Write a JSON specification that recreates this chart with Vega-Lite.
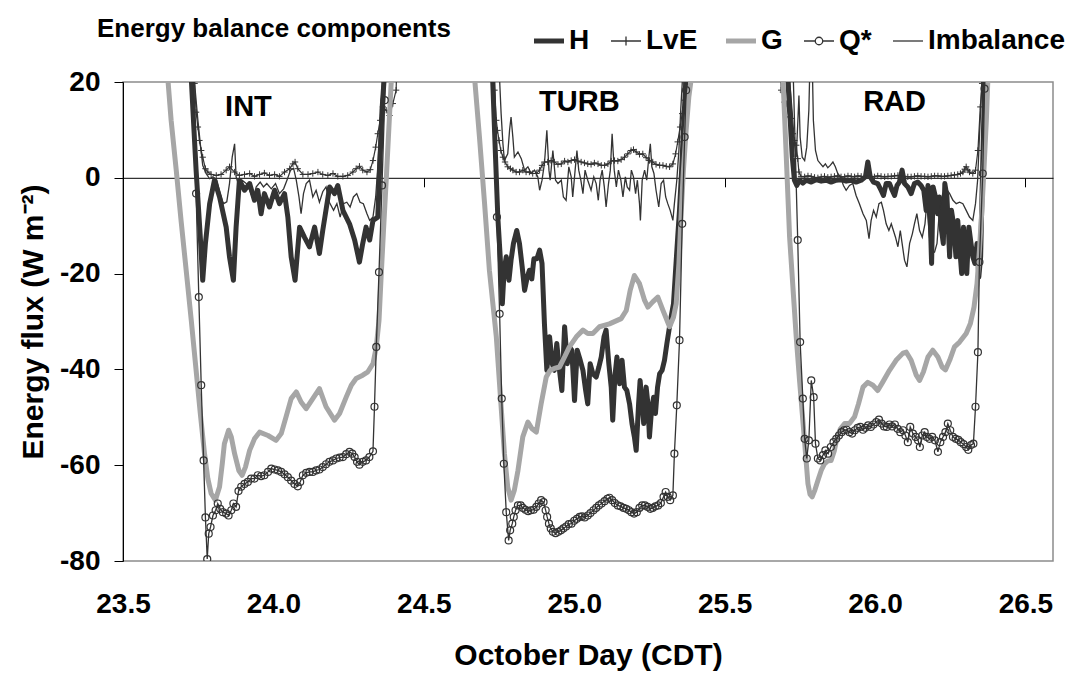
{
"$schema": "https://vega.github.io/schema/vega-lite/v6.json",
"width": 930, "height": 479,
"autosize": {"type": "none"},
"padding": {"left": 123, "top": 82, "right": 21, "bottom": 112},
"background": "white",
"config": {"view": {"stroke": "#8c8c8c", "strokeWidth": 1.5}, "font": "Liberation Sans"},
"title": {"text": "Energy balance components", "anchor": "start", "frame": "group", "dx": -26, "offset": -15, "fontSize": 26, "font": "Liberation Sans", "fontWeight": "bold", "color": "black"},
"datasets": {
"lab": [{"t": "INT", "x": 23.917, "y": 14.7}, {"t": "TURB", "x": 25.017, "y": 15.8}, {"t": "RAD", "x": 26.065, "y": 15.8}],
"d": [
{"s":"H","x":23.5,"y":200},{"s":"H","x":23.715,"y":60},{"s":"H","x":23.727,"y":20.7},{"s":"H","x":23.743,"y":1.6},{"s":"H","x":23.757,"y":-12.4},{"s":"H","x":23.765,"y":-21.4},{"s":"H","x":23.774,"y":-13.7},{"s":"H","x":23.788,"y":-5.4},{"s":"H","x":23.804,"y":-0.5},{"s":"H","x":23.821,"y":-4.0},{"s":"H","x":23.843,"y":-10.3},{"s":"H","x":23.854,"y":-16.5},{"s":"H","x":23.867,"y":-21.4},{"s":"H","x":23.876,"y":-10.3},{"s":"H","x":23.887,"y":-0.5},{"s":"H","x":23.904,"y":-2.6},{"s":"H","x":23.921,"y":-1.2},{"s":"H","x":23.937,"y":-4.7},{"s":"H","x":23.948,"y":-2.6},{"s":"H","x":23.959,"y":-7.5},{"s":"H","x":23.97,"y":-3.3},{"s":"H","x":23.987,"y":-6.1},{"s":"H","x":24.004,"y":-2.6},{"s":"H","x":24.02,"y":-5.4},{"s":"H","x":24.037,"y":-3.3},{"s":"H","x":24.048,"y":-8.2},{"s":"H","x":24.059,"y":-16.5},{"s":"H","x":24.072,"y":-21.4},{"s":"H","x":24.087,"y":-10.3},{"s":"H","x":24.103,"y":-12.4},{"s":"H","x":24.12,"y":-14.4},{"s":"H","x":24.137,"y":-10.3},{"s":"H","x":24.153,"y":-15.8},{"s":"H","x":24.164,"y":-11.0},{"s":"H","x":24.187,"y":-1.9},{"s":"H","x":24.203,"y":-3.3},{"s":"H","x":24.214,"y":-1.6},{"s":"H","x":24.231,"y":-6.8},{"s":"H","x":24.253,"y":-9.6},{"s":"H","x":24.27,"y":-13.0},{"s":"H","x":24.286,"y":-17.6},{"s":"H","x":24.297,"y":-13.7},{"s":"H","x":24.308,"y":-10.3},{"s":"H","x":24.32,"y":-13.0},{"s":"H","x":24.331,"y":-8.9},{"s":"H","x":24.347,"y":-8.2},{"s":"H","x":24.353,"y":1.6},{"s":"H","x":24.361,"y":14.1},{"s":"H","x":24.37,"y":22.4},{"s":"H","x":24.38,"y":60},{"s":"H","x":24.55,"y":250},{"s":"H","x":24.72,"y":60},
{"s":"H","x":24.729,"y":20.4},{"s":"H","x":24.738,"y":5.0},{"s":"H","x":24.746,"y":-8.2},{"s":"H","x":24.754,"y":-16.5},{"s":"H","x":24.761,"y":-26.3},{"s":"H","x":24.767,"y":-19.3},{"s":"H","x":24.774,"y":-16.5},{"s":"H","x":24.783,"y":-21.4},{"s":"H","x":24.79,"y":-17.2},{"s":"H","x":24.798,"y":-13.7},{"s":"H","x":24.809,"y":-11.0},{"s":"H","x":24.818,"y":-13.7},{"s":"H","x":24.827,"y":-18.6},{"s":"H","x":24.835,"y":-23.5},{"s":"H","x":24.844,"y":-20.7},{"s":"H","x":24.851,"y":-19.3},{"s":"H","x":24.859,"y":-21.1},{"s":"H","x":24.866,"y":-16.9},{"s":"H","x":24.876,"y":-16.9},{"s":"H","x":24.885,"y":-15.1},{"s":"H","x":24.893,"y":-17.9},{"s":"H","x":24.901,"y":-30.5},{"s":"H","x":24.909,"y":-40.2},{"s":"H","x":24.918,"y":-33.2},{"s":"H","x":24.927,"y":-38.8},{"s":"H","x":24.934,"y":-40.2},{"s":"H","x":24.942,"y":-34.6},{"s":"H","x":24.951,"y":-40.2},{"s":"H","x":24.959,"y":-44.4},{"s":"H","x":24.968,"y":-31.1},{"s":"H","x":24.977,"y":-38.8},{"s":"H","x":24.984,"y":-35.3},{"s":"H","x":24.992,"y":-36.0},{"s":"H","x":25.001,"y":-46.5},{"s":"H","x":25.01,"y":-36.0},{"s":"H","x":25.02,"y":-38.1},{"s":"H","x":25.029,"y":-40.2},{"s":"H","x":25.038,"y":-44.4},{"s":"H","x":25.045,"y":-47.2},{"s":"H","x":25.053,"y":-38.8},{"s":"H","x":25.062,"y":-40.9},{"s":"H","x":25.073,"y":-41.6},{"s":"H","x":25.082,"y":-39.5},{"s":"H","x":25.09,"y":-37.4},{"s":"H","x":25.099,"y":-33.2},{"s":"H","x":25.106,"y":-31.8},{"s":"H","x":25.115,"y":-38.8},{"s":"H","x":25.123,"y":-43.7},{"s":"H","x":25.128,"y":-50.6},{"s":"H","x":25.135,"y":-41.6},{"s":"H","x":25.142,"y":-37.4},{"s":"H","x":25.151,"y":-43.0},{"s":"H","x":25.159,"y":-38.1},{"s":"H","x":25.167,"y":-43.7},{"s":"H","x":25.175,"y":-44.4},{"s":"H","x":25.184,"y":-47.2},{"s":"H","x":25.192,"y":-51.3},{"s":"H","x":25.2,"y":-54.1},{"s":"H","x":25.206,"y":-56.9},{"s":"H","x":25.214,"y":-47.2},{"s":"H","x":25.219,"y":-42.3},{"s":"H","x":25.226,"y":-47.2},{"s":"H","x":25.231,"y":-51.3},{"s":"H","x":25.239,"y":-43.7},{"s":"H","x":25.245,"y":-47.2},{"s":"H","x":25.25,"y":-54.1},{"s":"H","x":25.257,"y":-48.5},{"s":"H","x":25.264,"y":-45.8},{"s":"H","x":25.27,"y":-49.2},{"s":"H","x":25.277,"y":-43.7},{"s":"H","x":25.284,"y":-40.9},{"s":"H","x":25.292,"y":-40.2},{"s":"H","x":25.3,"y":-38.1},{"s":"H","x":25.308,"y":-34.6},{"s":"H","x":25.315,"y":-31.8},{"s":"H","x":25.322,"y":-29.1},{"s":"H","x":25.33,"y":-26.3},{"s":"H","x":25.337,"y":-19.3},{"s":"H","x":25.344,"y":-12.4},{"s":"H","x":25.35,"y":-6.8},{"s":"H","x":25.357,"y":1.6},{"s":"H","x":25.363,"y":9.9},{"s":"H","x":25.37,"y":19.0},{"s":"H","x":25.38,"y":60},{"s":"H","x":25.55,"y":250},{"s":"H","x":25.7,"y":60},
{"s":"H","x":25.71,"y":20.7},{"s":"H","x":25.718,"y":12.0},{"s":"H","x":25.725,"y":4.3},{"s":"H","x":25.732,"y":-0.5},{"s":"H","x":25.74,"y":-1.6},{"s":"H","x":25.749,"y":-0.5},{"s":"H","x":25.76,"y":-1.1},{"s":"H","x":25.771,"y":-0.5},{"s":"H","x":25.788,"y":-0.9},{"s":"H","x":25.804,"y":-0.4},{"s":"H","x":25.821,"y":-0.7},{"s":"H","x":25.838,"y":-0.5},{"s":"H","x":25.854,"y":-0.9},{"s":"H","x":25.871,"y":-0.5},{"s":"H","x":25.887,"y":-0.4},{"s":"H","x":25.904,"y":-0.7},{"s":"H","x":25.921,"y":-0.5},{"s":"H","x":25.937,"y":-0.9},{"s":"H","x":25.954,"y":-0.5},{"s":"H","x":25.968,"y":0.2},{"s":"H","x":25.976,"y":3.3},{"s":"H","x":25.984,"y":0.2},{"s":"H","x":25.995,"y":-0.9},{"s":"H","x":26.009,"y":-1.2},{"s":"H","x":26.02,"y":-2.6},{"s":"H","x":26.028,"y":-3.7},{"s":"H","x":26.037,"y":-1.2},{"s":"H","x":26.048,"y":-1.2},{"s":"H","x":26.057,"y":-2.6},{"s":"H","x":26.065,"y":-3.7},{"s":"H","x":26.073,"y":-1.6},{"s":"H","x":26.081,"y":-0.9},{"s":"H","x":26.09,"y":1.6},{"s":"H","x":26.098,"y":-1.2},{"s":"H","x":26.109,"y":-1.9},{"s":"H","x":26.12,"y":-3.3},{"s":"H","x":26.131,"y":-1.2},{"s":"H","x":26.142,"y":-0.9},{"s":"H","x":26.153,"y":-1.6},{"s":"H","x":26.162,"y":-2.6},{"s":"H","x":26.17,"y":-6.8},{"s":"H","x":26.176,"y":-1.6},{"s":"H","x":26.181,"y":-2.6},{"s":"H","x":26.188,"y":-17.9},{"s":"H","x":26.193,"y":-1.9},{"s":"H","x":26.201,"y":-4.0},{"s":"H","x":26.208,"y":-7.5},{"s":"H","x":26.214,"y":-4.0},{"s":"H","x":26.221,"y":-11.0},{"s":"H","x":26.227,"y":-13.7},{"s":"H","x":26.232,"y":-1.2},{"s":"H","x":26.239,"y":-4.0},{"s":"H","x":26.248,"y":-16.5},{"s":"H","x":26.254,"y":-6.8},{"s":"H","x":26.261,"y":-9.6},{"s":"H","x":26.269,"y":-16.5},{"s":"H","x":26.275,"y":-8.9},{"s":"H","x":26.282,"y":-15.1},{"s":"H","x":26.288,"y":-20.0},{"s":"H","x":26.294,"y":-10.3},{"s":"H","x":26.3,"y":-15.1},{"s":"H","x":26.305,"y":-20.0},{"s":"H","x":26.312,"y":-10.3},{"s":"H","x":26.319,"y":-13.7},{"s":"H","x":26.325,"y":-16.5},{"s":"H","x":26.332,"y":-17.9},{"s":"H","x":26.339,"y":-13.7},{"s":"H","x":26.345,"y":-20.7},{"s":"H","x":26.351,"y":-16.5},{"s":"H","x":26.355,"y":-5.4},{"s":"H","x":26.36,"y":8.5},{"s":"H","x":26.364,"y":18.3},{"s":"H","x":26.375,"y":60},{"s":"H","x":26.45,"y":200},

{"s":"LvE","x":23.5,"y":100},{"s":"LvE","x":23.72,"y":40},{"s":"LvE","x":23.738,"y":19.7},{"s":"LvE","x":23.743,"y":13.7},{"s":"LvE","x":23.749,"y":10.6},{"s":"LvE","x":23.754,"y":7.8},{"s":"LvE","x":23.76,"y":5.7},{"s":"LvE","x":23.765,"y":4.3},{"s":"LvE","x":23.774,"y":1.9},{"s":"LvE","x":23.782,"y":1.2},{"s":"LvE","x":23.793,"y":0.7},{"s":"LvE","x":23.81,"y":0.5},{"s":"LvE","x":23.826,"y":0.7},{"s":"LvE","x":23.843,"y":1.6},{"s":"LvE","x":23.854,"y":2.3},{"s":"LvE","x":23.871,"y":1.2},{"s":"LvE","x":23.887,"y":0.5},{"s":"LvE","x":23.904,"y":0.7},{"s":"LvE","x":23.921,"y":0.9},{"s":"LvE","x":23.937,"y":0.3},{"s":"LvE","x":23.954,"y":0.7},{"s":"LvE","x":23.97,"y":1.0},{"s":"LvE","x":23.987,"y":0.5},{"s":"LvE","x":24.004,"y":0.7},{"s":"LvE","x":24.02,"y":0.3},{"s":"LvE","x":24.037,"y":1.2},{"s":"LvE","x":24.054,"y":1.9},{"s":"LvE","x":24.065,"y":2.9},{"s":"LvE","x":24.072,"y":3.3},{"s":"LvE","x":24.081,"y":1.9},{"s":"LvE","x":24.098,"y":0.7},{"s":"LvE","x":24.115,"y":0.7},{"s":"LvE","x":24.131,"y":0.9},{"s":"LvE","x":24.148,"y":1.2},{"s":"LvE","x":24.164,"y":0.7},{"s":"LvE","x":24.181,"y":0.5},{"s":"LvE","x":24.198,"y":0.9},{"s":"LvE","x":24.214,"y":0.3},{"s":"LvE","x":24.231,"y":0.3},{"s":"LvE","x":24.247,"y":0.5},{"s":"LvE","x":24.264,"y":1.2},{"s":"LvE","x":24.275,"y":1.9},{"s":"LvE","x":24.286,"y":2.4},{"s":"LvE","x":24.297,"y":1.6},{"s":"LvE","x":24.311,"y":1.2},{"s":"LvE","x":24.322,"y":1.7},{"s":"LvE","x":24.331,"y":3.6},{"s":"LvE","x":24.34,"y":6.4},{"s":"LvE","x":24.347,"y":9.2},{"s":"LvE","x":24.355,"y":12.0},{"s":"LvE","x":24.364,"y":14.8},{"s":"LvE","x":24.375,"y":14.1},{"s":"LvE","x":24.386,"y":13.0},{"s":"LvE","x":24.397,"y":15.5},{"s":"LvE","x":24.408,"y":18.3},{"s":"LvE","x":24.42,"y":50},{"s":"LvE","x":24.55,"y":150},{"s":"LvE","x":24.725,"y":40},
{"s":"LvE","x":24.735,"y":18.3},{"s":"LvE","x":24.741,"y":12.0},{"s":"LvE","x":24.745,"y":9.9},{"s":"LvE","x":24.75,"y":7.8},{"s":"LvE","x":24.756,"y":5.7},{"s":"LvE","x":24.763,"y":4.3},{"s":"LvE","x":24.77,"y":3.3},{"s":"LvE","x":24.779,"y":2.3},{"s":"LvE","x":24.788,"y":1.9},{"s":"LvE","x":24.796,"y":1.6},{"s":"LvE","x":24.807,"y":1.2},{"s":"LvE","x":24.818,"y":1.2},{"s":"LvE","x":24.829,"y":1.6},{"s":"LvE","x":24.84,"y":1.2},{"s":"LvE","x":24.851,"y":1.2},{"s":"LvE","x":24.862,"y":0.9},{"s":"LvE","x":24.874,"y":0.9},{"s":"LvE","x":24.885,"y":1.6},{"s":"LvE","x":24.893,"y":2.6},{"s":"LvE","x":24.901,"y":3.3},{"s":"LvE","x":24.912,"y":3.3},{"s":"LvE","x":24.923,"y":3.6},{"s":"LvE","x":24.934,"y":3.3},{"s":"LvE","x":24.946,"y":2.8},{"s":"LvE","x":24.957,"y":2.9},{"s":"LvE","x":24.968,"y":3.5},{"s":"LvE","x":24.979,"y":3.3},{"s":"LvE","x":24.99,"y":3.6},{"s":"LvE","x":25.001,"y":3.8},{"s":"LvE","x":25.012,"y":3.5},{"s":"LvE","x":25.023,"y":3.3},{"s":"LvE","x":25.034,"y":3.1},{"s":"LvE","x":25.045,"y":2.9},{"s":"LvE","x":25.056,"y":2.8},{"s":"LvE","x":25.067,"y":3.1},{"s":"LvE","x":25.079,"y":2.9},{"s":"LvE","x":25.09,"y":2.6},{"s":"LvE","x":25.101,"y":2.6},{"s":"LvE","x":25.112,"y":2.9},{"s":"LvE","x":25.123,"y":3.5},{"s":"LvE","x":25.134,"y":3.6},{"s":"LvE","x":25.145,"y":3.5},{"s":"LvE","x":25.156,"y":3.8},{"s":"LvE","x":25.167,"y":4.3},{"s":"LvE","x":25.178,"y":5.0},{"s":"LvE","x":25.189,"y":5.7},{"s":"LvE","x":25.197,"y":5.9},{"s":"LvE","x":25.206,"y":5.4},{"s":"LvE","x":25.217,"y":4.9},{"s":"LvE","x":25.228,"y":5.0},{"s":"LvE","x":25.239,"y":4.2},{"s":"LvE","x":25.25,"y":3.6},{"s":"LvE","x":25.261,"y":3.3},{"s":"LvE","x":25.272,"y":2.8},{"s":"LvE","x":25.284,"y":2.6},{"s":"LvE","x":25.295,"y":2.6},{"s":"LvE","x":25.306,"y":2.4},{"s":"LvE","x":25.317,"y":2.3},{"s":"LvE","x":25.328,"y":2.9},{"s":"LvE","x":25.337,"y":5.0},{"s":"LvE","x":25.344,"y":7.5},{"s":"LvE","x":25.352,"y":10.6},{"s":"LvE","x":25.359,"y":13.4},{"s":"LvE","x":25.367,"y":16.2},{"s":"LvE","x":25.374,"y":18.3},{"s":"LvE","x":25.39,"y":50},{"s":"LvE","x":25.55,"y":150},{"s":"LvE","x":25.68,"y":40},
{"s":"LvE","x":25.688,"y":18.3},{"s":"LvE","x":25.694,"y":17.9},{"s":"LvE","x":25.699,"y":15.8},{"s":"LvE","x":25.705,"y":15.5},{"s":"LvE","x":25.714,"y":12.7},{"s":"LvE","x":25.721,"y":12.4},{"s":"LvE","x":25.727,"y":9.2},{"s":"LvE","x":25.732,"y":7.8},{"s":"LvE","x":25.738,"y":6.8},{"s":"LvE","x":25.743,"y":4.0},{"s":"LvE","x":25.747,"y":1.2},{"s":"LvE","x":25.754,"y":0.3},{"s":"LvE","x":25.766,"y":0.2},{"s":"LvE","x":25.777,"y":0.4},{"s":"LvE","x":25.788,"y":0.3},{"s":"LvE","x":25.799,"y":0.1},{"s":"LvE","x":25.81,"y":0.0},{"s":"LvE","x":25.821,"y":0.2},{"s":"LvE","x":25.832,"y":0.3},{"s":"LvE","x":25.843,"y":0.1},{"s":"LvE","x":25.854,"y":0.2},{"s":"LvE","x":25.865,"y":0.3},{"s":"LvE","x":25.876,"y":0.4},{"s":"LvE","x":25.887,"y":0.2},{"s":"LvE","x":25.899,"y":0.2},{"s":"LvE","x":25.91,"y":0.4},{"s":"LvE","x":25.921,"y":0.3},{"s":"LvE","x":25.932,"y":0.2},{"s":"LvE","x":25.943,"y":0.4},{"s":"LvE","x":25.954,"y":0.3},{"s":"LvE","x":25.965,"y":0.2},{"s":"LvE","x":25.976,"y":0.4},{"s":"LvE","x":25.987,"y":0.3},{"s":"LvE","x":25.998,"y":0.2},{"s":"LvE","x":26.009,"y":0.4},{"s":"LvE","x":26.02,"y":0.3},{"s":"LvE","x":26.032,"y":0.2},{"s":"LvE","x":26.043,"y":0.3},{"s":"LvE","x":26.054,"y":0.3},{"s":"LvE","x":26.065,"y":0.4},{"s":"LvE","x":26.076,"y":0.5},{"s":"LvE","x":26.087,"y":0.4},{"s":"LvE","x":26.098,"y":0.3},{"s":"LvE","x":26.109,"y":0.2},{"s":"LvE","x":26.12,"y":0.2},{"s":"LvE","x":26.131,"y":0.3},{"s":"LvE","x":26.142,"y":0.4},{"s":"LvE","x":26.153,"y":0.3},{"s":"LvE","x":26.165,"y":0.3},{"s":"LvE","x":26.176,"y":0.2},{"s":"LvE","x":26.187,"y":0.3},{"s":"LvE","x":26.198,"y":0.4},{"s":"LvE","x":26.209,"y":0.4},{"s":"LvE","x":26.22,"y":0.3},{"s":"LvE","x":26.231,"y":0.3},{"s":"LvE","x":26.242,"y":0.4},{"s":"LvE","x":26.253,"y":0.5},{"s":"LvE","x":26.264,"y":0.6},{"s":"LvE","x":26.275,"y":0.7},{"s":"LvE","x":26.284,"y":0.9},{"s":"LvE","x":26.292,"y":1.2},{"s":"LvE","x":26.298,"y":1.8},{"s":"LvE","x":26.303,"y":2.3},{"s":"LvE","x":26.309,"y":1.6},{"s":"LvE","x":26.314,"y":1.2},{"s":"LvE","x":26.325,"y":0.9},{"s":"LvE","x":26.334,"y":1.6},{"s":"LvE","x":26.342,"y":5.7},{"s":"LvE","x":26.35,"y":14.8},{"s":"LvE","x":26.356,"y":19.7},{"s":"LvE","x":26.37,"y":50},{"s":"LvE","x":26.45,"y":100},

{"s":"G","x":23.5,"y":130},{"s":"G","x":23.55,"y":90},{"s":"G","x":23.6,"y":55},{"s":"G","x":23.649,"y":20.7},{"s":"G","x":23.66,"y":12.0},{"s":"G","x":23.677,"y":1.6},{"s":"G","x":23.693,"y":-8.9},{"s":"G","x":23.71,"y":-19.3},{"s":"G","x":23.727,"y":-29.8},{"s":"G","x":23.743,"y":-40.2},{"s":"G","x":23.757,"y":-49.2},{"s":"G","x":23.771,"y":-57.6},{"s":"G","x":23.782,"y":-62.8},{"s":"G","x":23.793,"y":-65.9},{"s":"G","x":23.807,"y":-67.3},{"s":"G","x":23.821,"y":-64.5},{"s":"G","x":23.83,"y":-59.7},{"s":"G","x":23.837,"y":-55.5},{"s":"G","x":23.851,"y":-52.7},{"s":"G","x":23.86,"y":-54.1},{"s":"G","x":23.871,"y":-57.6},{"s":"G","x":23.885,"y":-61.1},{"s":"G","x":23.896,"y":-62.1},{"s":"G","x":23.907,"y":-60.4},{"s":"G","x":23.921,"y":-56.9},{"s":"G","x":23.937,"y":-54.5},{"s":"G","x":23.954,"y":-53.1},{"s":"G","x":23.982,"y":-53.8},{"s":"G","x":24.009,"y":-54.8},{"s":"G","x":24.026,"y":-53.4},{"s":"G","x":24.042,"y":-49.9},{"s":"G","x":24.059,"y":-46.1},{"s":"G","x":24.076,"y":-44.7},{"s":"G","x":24.092,"y":-46.8},{"s":"G","x":24.109,"y":-48.2},{"s":"G","x":24.131,"y":-46.1},{"s":"G","x":24.153,"y":-44.0},{"s":"G","x":24.175,"y":-47.8},{"s":"G","x":24.203,"y":-50.6},{"s":"G","x":24.22,"y":-49.2},{"s":"G","x":24.242,"y":-45.8},{"s":"G","x":24.259,"y":-43.3},{"s":"G","x":24.275,"y":-41.9},{"s":"G","x":24.297,"y":-41.2},{"s":"G","x":24.314,"y":-40.5},{"s":"G","x":24.331,"y":-38.8},{"s":"G","x":24.342,"y":-35.3},{"s":"G","x":24.351,"y":-29.8},{"s":"G","x":24.358,"y":-20.7},{"s":"G","x":24.366,"y":-11.0},{"s":"G","x":24.375,"y":-0.5},{"s":"G","x":24.384,"y":10.6},{"s":"G","x":24.392,"y":20.4},{"s":"G","x":24.42,"y":80},{"s":"G","x":24.55,"y":200},{"s":"G","x":24.6,"y":70},{"s":"G","x":24.63,"y":47},
{"s":"G","x":24.669,"y":20.7},{"s":"G","x":24.685,"y":8.5},{"s":"G","x":24.702,"y":-5.4},{"s":"G","x":24.718,"y":-19.3},{"s":"G","x":24.741,"y":-33.2},{"s":"G","x":24.754,"y":-45.1},{"s":"G","x":24.768,"y":-57.6},{"s":"G","x":24.779,"y":-64.6},{"s":"G","x":24.79,"y":-67.3},{"s":"G","x":24.801,"y":-65.2},{"s":"G","x":24.813,"y":-61.1},{"s":"G","x":24.829,"y":-54.1},{"s":"G","x":24.846,"y":-51.0},{"s":"G","x":24.86,"y":-52.4},{"s":"G","x":24.874,"y":-53.1},{"s":"G","x":24.89,"y":-47.2},{"s":"G","x":24.907,"y":-41.6},{"s":"G","x":24.92,"y":-40.2},{"s":"G","x":24.934,"y":-39.8},{"s":"G","x":24.951,"y":-39.5},{"s":"G","x":24.968,"y":-37.4},{"s":"G","x":24.984,"y":-35.3},{"s":"G","x":25.007,"y":-33.2},{"s":"G","x":25.029,"y":-31.8},{"s":"G","x":25.045,"y":-32.5},{"s":"G","x":25.062,"y":-32.5},{"s":"G","x":25.084,"y":-31.1},{"s":"G","x":25.117,"y":-30.5},{"s":"G","x":25.156,"y":-29.4},{"s":"G","x":25.173,"y":-27.7},{"s":"G","x":25.186,"y":-23.5},{"s":"G","x":25.2,"y":-20.4},{"s":"G","x":25.217,"y":-22.1},{"s":"G","x":25.234,"y":-25.6},{"s":"G","x":25.245,"y":-27.0},{"s":"G","x":25.261,"y":-25.9},{"s":"G","x":25.278,"y":-24.9},{"s":"G","x":25.295,"y":-27.7},{"s":"G","x":25.317,"y":-31.1},{"s":"G","x":25.33,"y":-29.1},{"s":"G","x":25.339,"y":-26.3},{"s":"G","x":25.348,"y":-17.9},{"s":"G","x":25.356,"y":-6.8},{"s":"G","x":25.363,"y":1.6},{"s":"G","x":25.372,"y":9.9},{"s":"G","x":25.381,"y":16.9},{"s":"G","x":25.389,"y":20.7},{"s":"G","x":25.42,"y":80},{"s":"G","x":25.55,"y":200},{"s":"G","x":25.62,"y":120},{"s":"G","x":25.67,"y":55},
{"s":"G","x":25.694,"y":20.7},{"s":"G","x":25.705,"y":4.3},{"s":"G","x":25.716,"y":-12.4},{"s":"G","x":25.727,"y":-22.8},{"s":"G","x":25.738,"y":-33.2},{"s":"G","x":25.749,"y":-42.3},{"s":"G","x":25.76,"y":-50.6},{"s":"G","x":25.769,"y":-57.6},{"s":"G","x":25.777,"y":-63.9},{"s":"G","x":25.784,"y":-66.1},{"s":"G","x":25.791,"y":-66.6},{"s":"G","x":25.8,"y":-65.2},{"s":"G","x":25.81,"y":-63.2},{"s":"G","x":25.821,"y":-61.1},{"s":"G","x":25.832,"y":-59.7},{"s":"G","x":25.843,"y":-59.1},{"s":"G","x":25.854,"y":-59.0},{"s":"G","x":25.865,"y":-56.9},{"s":"G","x":25.874,"y":-54.1},{"s":"G","x":25.885,"y":-52.4},{"s":"G","x":25.899,"y":-51.3},{"s":"G","x":25.915,"y":-51.3},{"s":"G","x":25.932,"y":-49.9},{"s":"G","x":25.945,"y":-47.2},{"s":"G","x":25.96,"y":-43.7},{"s":"G","x":25.976,"y":-42.7},{"s":"G","x":25.993,"y":-43.3},{"s":"G","x":26.009,"y":-44.4},{"s":"G","x":26.026,"y":-42.6},{"s":"G","x":26.048,"y":-40.2},{"s":"G","x":26.07,"y":-38.1},{"s":"G","x":26.093,"y":-36.6},{"s":"G","x":26.104,"y":-36.4},{"s":"G","x":26.12,"y":-38.1},{"s":"G","x":26.137,"y":-41.2},{"s":"G","x":26.148,"y":-42.3},{"s":"G","x":26.161,"y":-40.5},{"s":"G","x":26.176,"y":-37.4},{"s":"G","x":26.192,"y":-36.0},{"s":"G","x":26.209,"y":-37.4},{"s":"G","x":26.223,"y":-39.5},{"s":"G","x":26.234,"y":-40.1},{"s":"G","x":26.248,"y":-38.1},{"s":"G","x":26.264,"y":-35.3},{"s":"G","x":26.281,"y":-34.3},{"s":"G","x":26.303,"y":-32.5},{"s":"G","x":26.317,"y":-30.4},{"s":"G","x":26.329,"y":-27.0},{"s":"G","x":26.339,"y":-22.1},{"s":"G","x":26.347,"y":-15.1},{"s":"G","x":26.355,"y":-6.8},{"s":"G","x":26.362,"y":1.6},{"s":"G","x":26.37,"y":12.0},{"s":"G","x":26.375,"y":20.4},{"s":"G","x":26.4,"y":80},{"s":"G","x":26.5,"y":150},

{"s":"Q*","x":23.5,"y":300},{"s":"Q*","x":23.728,"y":45},{"s":"Q*","x":23.743,"y":-3.3},{"s":"Q*","x":23.752,"y":-24.9},{"s":"Q*","x":23.76,"y":-43.3},{"s":"Q*","x":23.768,"y":-59.0},{"s":"Q*","x":23.774,"y":-70.9},{"s":"Q*","x":23.78,"y":-79.6},{"s":"Q*","x":23.785,"y":-74.3},{"s":"Q*","x":23.791,"y":-72.9},{"s":"Q*","x":23.799,"y":-70.5},{"s":"Q*","x":23.808,"y":-69.4},{"s":"Q*","x":23.815,"y":-68.0},{"s":"Q*","x":23.823,"y":-69.1},{"s":"Q*","x":23.832,"y":-69.8},{"s":"Q*","x":23.843,"y":-70.1},{"s":"Q*","x":23.851,"y":-70.5},{"s":"Q*","x":23.86,"y":-69.4},{"s":"Q*","x":23.867,"y":-68.0},{"s":"Q*","x":23.876,"y":-68.7},{"s":"Q*","x":23.884,"y":-65.4},{"s":"Q*","x":23.893,"y":-64.5},{"s":"Q*","x":23.904,"y":-63.9},{"s":"Q*","x":23.915,"y":-63.5},{"s":"Q*","x":23.926,"y":-62.8},{"s":"Q*","x":23.937,"y":-62.8},{"s":"Q*","x":23.948,"y":-62.1},{"s":"Q*","x":23.959,"y":-62.3},{"s":"Q*","x":23.97,"y":-62.1},{"s":"Q*","x":23.982,"y":-61.4},{"s":"Q*","x":23.993,"y":-60.7},{"s":"Q*","x":24.004,"y":-60.9},{"s":"Q*","x":24.015,"y":-61.1},{"s":"Q*","x":24.026,"y":-61.4},{"s":"Q*","x":24.037,"y":-61.9},{"s":"Q*","x":24.048,"y":-62.5},{"s":"Q*","x":24.059,"y":-63.2},{"s":"Q*","x":24.07,"y":-63.9},{"s":"Q*","x":24.081,"y":-64.4},{"s":"Q*","x":24.089,"y":-63.5},{"s":"Q*","x":24.098,"y":-62.1},{"s":"Q*","x":24.109,"y":-61.6},{"s":"Q*","x":24.12,"y":-61.4},{"s":"Q*","x":24.131,"y":-61.4},{"s":"Q*","x":24.142,"y":-61.1},{"s":"Q*","x":24.153,"y":-60.9},{"s":"Q*","x":24.164,"y":-60.4},{"s":"Q*","x":24.175,"y":-59.8},{"s":"Q*","x":24.186,"y":-59.3},{"s":"Q*","x":24.198,"y":-59.0},{"s":"Q*","x":24.209,"y":-58.6},{"s":"Q*","x":24.22,"y":-58.4},{"s":"Q*","x":24.231,"y":-58.3},{"s":"Q*","x":24.242,"y":-57.7},{"s":"Q*","x":24.253,"y":-57.2},{"s":"Q*","x":24.262,"y":-57.6},{"s":"Q*","x":24.27,"y":-58.3},{"s":"Q*","x":24.278,"y":-59.3},{"s":"Q*","x":24.286,"y":-59.9},{"s":"Q*","x":24.297,"y":-59.3},{"s":"Q*","x":24.308,"y":-59.0},{"s":"Q*","x":24.319,"y":-58.3},{"s":"Q*","x":24.331,"y":-57.1},{"s":"Q*","x":24.336,"y":-47.8},{"s":"Q*","x":24.342,"y":-35.3},{"s":"Q*","x":24.351,"y":-19.7},{"s":"Q*","x":24.361,"y":-1.6},{"s":"Q*","x":24.37,"y":16.2},{"s":"Q*","x":24.38,"y":55},{"s":"Q*","x":24.55,"y":400},{"s":"Q*","x":24.728,"y":45},
{"s":"Q*","x":24.743,"y":-8.2},{"s":"Q*","x":24.752,"y":-28.4},{"s":"Q*","x":24.759,"y":-46.1},{"s":"Q*","x":24.766,"y":-59.7},{"s":"Q*","x":24.774,"y":-69.8},{"s":"Q*","x":24.782,"y":-75.7},{"s":"Q*","x":24.787,"y":-73.6},{"s":"Q*","x":24.794,"y":-72.2},{"s":"Q*","x":24.799,"y":-70.8},{"s":"Q*","x":24.805,"y":-69.4},{"s":"Q*","x":24.813,"y":-68.4},{"s":"Q*","x":24.822,"y":-68.4},{"s":"Q*","x":24.829,"y":-68.9},{"s":"Q*","x":24.838,"y":-69.3},{"s":"Q*","x":24.847,"y":-69.6},{"s":"Q*","x":24.856,"y":-69.4},{"s":"Q*","x":24.865,"y":-69.3},{"s":"Q*","x":24.874,"y":-68.7},{"s":"Q*","x":24.882,"y":-68.0},{"s":"Q*","x":24.89,"y":-67.3},{"s":"Q*","x":24.898,"y":-67.7},{"s":"Q*","x":24.905,"y":-69.4},{"s":"Q*","x":24.91,"y":-70.8},{"s":"Q*","x":24.916,"y":-72.2},{"s":"Q*","x":24.922,"y":-73.2},{"s":"Q*","x":24.929,"y":-73.9},{"s":"Q*","x":24.938,"y":-74.2},{"s":"Q*","x":24.947,"y":-73.9},{"s":"Q*","x":24.956,"y":-73.6},{"s":"Q*","x":24.964,"y":-73.2},{"s":"Q*","x":24.973,"y":-72.8},{"s":"Q*","x":24.982,"y":-72.3},{"s":"Q*","x":24.991,"y":-72.2},{"s":"Q*","x":25.0,"y":-71.6},{"s":"Q*","x":25.009,"y":-71.2},{"s":"Q*","x":25.018,"y":-70.8},{"s":"Q*","x":25.026,"y":-70.7},{"s":"Q*","x":25.035,"y":-70.9},{"s":"Q*","x":25.045,"y":-70.5},{"s":"Q*","x":25.054,"y":-70.0},{"s":"Q*","x":25.064,"y":-69.4},{"s":"Q*","x":25.073,"y":-68.9},{"s":"Q*","x":25.082,"y":-68.4},{"s":"Q*","x":25.091,"y":-68.0},{"s":"Q*","x":25.101,"y":-67.5},{"s":"Q*","x":25.11,"y":-67.0},{"s":"Q*","x":25.117,"y":-66.8},{"s":"Q*","x":25.126,"y":-67.3},{"s":"Q*","x":25.135,"y":-67.9},{"s":"Q*","x":25.145,"y":-68.4},{"s":"Q*","x":25.154,"y":-68.6},{"s":"Q*","x":25.164,"y":-68.9},{"s":"Q*","x":25.173,"y":-69.1},{"s":"Q*","x":25.182,"y":-69.4},{"s":"Q*","x":25.19,"y":-69.8},{"s":"Q*","x":25.199,"y":-70.1},{"s":"Q*","x":25.208,"y":-69.8},{"s":"Q*","x":25.217,"y":-68.9},{"s":"Q*","x":25.226,"y":-68.4},{"s":"Q*","x":25.235,"y":-68.4},{"s":"Q*","x":25.244,"y":-68.7},{"s":"Q*","x":25.253,"y":-69.1},{"s":"Q*","x":25.261,"y":-68.9},{"s":"Q*","x":25.27,"y":-68.6},{"s":"Q*","x":25.279,"y":-68.4},{"s":"Q*","x":25.288,"y":-67.9},{"s":"Q*","x":25.297,"y":-66.6},{"s":"Q*","x":25.304,"y":-65.6},{"s":"Q*","x":25.311,"y":-66.6},{"s":"Q*","x":25.319,"y":-67.3},{"s":"Q*","x":25.328,"y":-66.3},{"s":"Q*","x":25.333,"y":-57.6},{"s":"Q*","x":25.341,"y":-47.5},{"s":"Q*","x":25.35,"y":-33.9},{"s":"Q*","x":25.359,"y":-9.6},{"s":"Q*","x":25.367,"y":8.5},{"s":"Q*","x":25.372,"y":18.3},{"s":"Q*","x":25.38,"y":55},{"s":"Q*","x":25.55,"y":400},{"s":"Q*","x":25.72,"y":40},
{"s":"Q*","x":25.743,"y":-13.0},{"s":"Q*","x":25.751,"y":-34.3},{"s":"Q*","x":25.76,"y":-46.1},{"s":"Q*","x":25.766,"y":-54.5},{"s":"Q*","x":25.773,"y":-58.6},{"s":"Q*","x":25.78,"y":-54.8},{"s":"Q*","x":25.788,"y":-42.3},{"s":"Q*","x":25.796,"y":-45.8},{"s":"Q*","x":25.802,"y":-55.5},{"s":"Q*","x":25.81,"y":-58.6},{"s":"Q*","x":25.818,"y":-59.0},{"s":"Q*","x":25.827,"y":-57.9},{"s":"Q*","x":25.835,"y":-56.9},{"s":"Q*","x":25.844,"y":-57.6},{"s":"Q*","x":25.853,"y":-56.2},{"s":"Q*","x":25.862,"y":-55.2},{"s":"Q*","x":25.871,"y":-54.5},{"s":"Q*","x":25.88,"y":-53.8},{"s":"Q*","x":25.889,"y":-53.1},{"s":"Q*","x":25.897,"y":-52.7},{"s":"Q*","x":25.906,"y":-52.6},{"s":"Q*","x":25.915,"y":-53.1},{"s":"Q*","x":25.924,"y":-53.4},{"s":"Q*","x":25.933,"y":-52.7},{"s":"Q*","x":25.942,"y":-52.2},{"s":"Q*","x":25.951,"y":-52.0},{"s":"Q*","x":25.96,"y":-52.6},{"s":"Q*","x":25.968,"y":-52.2},{"s":"Q*","x":25.977,"y":-51.7},{"s":"Q*","x":25.986,"y":-52.0},{"s":"Q*","x":25.995,"y":-51.5},{"s":"Q*","x":26.004,"y":-51.0},{"s":"Q*","x":26.013,"y":-50.5},{"s":"Q*","x":26.022,"y":-51.3},{"s":"Q*","x":26.03,"y":-51.9},{"s":"Q*","x":26.039,"y":-52.0},{"s":"Q*","x":26.048,"y":-51.5},{"s":"Q*","x":26.057,"y":-51.9},{"s":"Q*","x":26.066,"y":-51.5},{"s":"Q*","x":26.075,"y":-52.4},{"s":"Q*","x":26.084,"y":-53.1},{"s":"Q*","x":26.093,"y":-52.7},{"s":"Q*","x":26.101,"y":-53.8},{"s":"Q*","x":26.109,"y":-55.2},{"s":"Q*","x":26.117,"y":-52.0},{"s":"Q*","x":26.126,"y":-53.4},{"s":"Q*","x":26.135,"y":-54.1},{"s":"Q*","x":26.143,"y":-54.8},{"s":"Q*","x":26.149,"y":-56.2},{"s":"Q*","x":26.157,"y":-53.8},{"s":"Q*","x":26.165,"y":-53.1},{"s":"Q*","x":26.172,"y":-54.1},{"s":"Q*","x":26.181,"y":-54.5},{"s":"Q*","x":26.19,"y":-54.1},{"s":"Q*","x":26.199,"y":-54.8},{"s":"Q*","x":26.209,"y":-57.2},{"s":"Q*","x":26.217,"y":-55.2},{"s":"Q*","x":26.226,"y":-54.1},{"s":"Q*","x":26.234,"y":-53.1},{"s":"Q*","x":26.242,"y":-51.3},{"s":"Q*","x":26.25,"y":-52.7},{"s":"Q*","x":26.259,"y":-54.1},{"s":"Q*","x":26.268,"y":-54.5},{"s":"Q*","x":26.277,"y":-54.7},{"s":"Q*","x":26.285,"y":-55.2},{"s":"Q*","x":26.294,"y":-55.6},{"s":"Q*","x":26.303,"y":-56.2},{"s":"Q*","x":26.31,"y":-56.8},{"s":"Q*","x":26.319,"y":-55.8},{"s":"Q*","x":26.327,"y":-55.5},{"s":"Q*","x":26.334,"y":-47.8},{"s":"Q*","x":26.342,"y":-36.4},{"s":"Q*","x":26.347,"y":-17.6},{"s":"Q*","x":26.358,"y":0.9},{"s":"Q*","x":26.364,"y":18.6},{"s":"Q*","x":26.375,"y":55},{"s":"Q*","x":26.45,"y":300},

{"s":"Imbalance","x":23.5,"y":60},{"s":"Imbalance","x":23.73,"y":40},{"s":"Imbalance","x":23.738,"y":19.7},{"s":"Imbalance","x":23.749,"y":12.0},{"s":"Imbalance","x":23.757,"y":7.1},{"s":"Imbalance","x":23.765,"y":2.6},{"s":"Imbalance","x":23.776,"y":0.9},{"s":"Imbalance","x":23.788,"y":-0.2},{"s":"Imbalance","x":23.799,"y":0.2},{"s":"Imbalance","x":23.812,"y":-0.5},{"s":"Imbalance","x":23.823,"y":-3.3},{"s":"Imbalance","x":23.834,"y":-5.4},{"s":"Imbalance","x":23.845,"y":-5.0},{"s":"Imbalance","x":23.854,"y":-1.2},{"s":"Imbalance","x":23.863,"y":4.3},{"s":"Imbalance","x":23.871,"y":7.1},{"s":"Imbalance","x":23.876,"y":0.2},{"s":"Imbalance","x":23.885,"y":-1.6},{"s":"Imbalance","x":23.896,"y":-0.5},{"s":"Imbalance","x":23.91,"y":-1.2},{"s":"Imbalance","x":23.921,"y":-2.6},{"s":"Imbalance","x":23.932,"y":-4.4},{"s":"Imbalance","x":23.943,"y":-1.9},{"s":"Imbalance","x":23.956,"y":-0.9},{"s":"Imbalance","x":23.967,"y":-1.9},{"s":"Imbalance","x":23.978,"y":-1.2},{"s":"Imbalance","x":23.993,"y":-2.3},{"s":"Imbalance","x":24.007,"y":-1.2},{"s":"Imbalance","x":24.02,"y":-3.3},{"s":"Imbalance","x":24.034,"y":-2.3},{"s":"Imbalance","x":24.045,"y":-0.5},{"s":"Imbalance","x":24.057,"y":1.6},{"s":"Imbalance","x":24.067,"y":2.0},{"s":"Imbalance","x":24.076,"y":-0.5},{"s":"Imbalance","x":24.085,"y":-4.0},{"s":"Imbalance","x":24.092,"y":-7.5},{"s":"Imbalance","x":24.1,"y":-3.3},{"s":"Imbalance","x":24.109,"y":-1.2},{"s":"Imbalance","x":24.12,"y":-0.5},{"s":"Imbalance","x":24.131,"y":-4.0},{"s":"Imbalance","x":24.142,"y":-2.6},{"s":"Imbalance","x":24.153,"y":-5.1},{"s":"Imbalance","x":24.164,"y":-2.9},{"s":"Imbalance","x":24.175,"y":-1.9},{"s":"Imbalance","x":24.186,"y":-5.1},{"s":"Imbalance","x":24.2,"y":-6.8},{"s":"Imbalance","x":24.211,"y":-5.4},{"s":"Imbalance","x":24.222,"y":-8.2},{"s":"Imbalance","x":24.233,"y":-5.4},{"s":"Imbalance","x":24.244,"y":-5.1},{"s":"Imbalance","x":24.255,"y":-6.1},{"s":"Imbalance","x":24.266,"y":-4.0},{"s":"Imbalance","x":24.277,"y":-3.3},{"s":"Imbalance","x":24.288,"y":-5.1},{"s":"Imbalance","x":24.299,"y":-5.4},{"s":"Imbalance","x":24.311,"y":-7.5},{"s":"Imbalance","x":24.32,"y":-8.9},{"s":"Imbalance","x":24.331,"y":-8.2},{"s":"Imbalance","x":24.34,"y":-4.0},{"s":"Imbalance","x":24.347,"y":2.3},{"s":"Imbalance","x":24.355,"y":12.0},{"s":"Imbalance","x":24.362,"y":19.7},{"s":"Imbalance","x":24.37,"y":60},{"s":"Imbalance","x":24.55,"y":80},{"s":"Imbalance","x":24.745,"y":40},
{"s":"Imbalance","x":24.752,"y":20.4},{"s":"Imbalance","x":24.757,"y":13.4},{"s":"Imbalance","x":24.763,"y":7.1},{"s":"Imbalance","x":24.768,"y":3.6},{"s":"Imbalance","x":24.779,"y":5.0},{"s":"Imbalance","x":24.785,"y":9.9},{"s":"Imbalance","x":24.79,"y":12.7},{"s":"Imbalance","x":24.796,"y":8.5},{"s":"Imbalance","x":24.801,"y":4.3},{"s":"Imbalance","x":24.813,"y":5.4},{"s":"Imbalance","x":24.824,"y":4.0},{"s":"Imbalance","x":24.835,"y":1.6},{"s":"Imbalance","x":24.846,"y":2.3},{"s":"Imbalance","x":24.857,"y":0.9},{"s":"Imbalance","x":24.868,"y":1.6},{"s":"Imbalance","x":24.879,"y":0.2},{"s":"Imbalance","x":24.885,"y":-2.6},{"s":"Imbalance","x":24.893,"y":-0.5},{"s":"Imbalance","x":24.901,"y":3.0},{"s":"Imbalance","x":24.909,"y":9.9},{"s":"Imbalance","x":24.916,"y":1.6},{"s":"Imbalance","x":24.92,"y":-0.5},{"s":"Imbalance","x":24.929,"y":5.7},{"s":"Imbalance","x":24.938,"y":-0.5},{"s":"Imbalance","x":24.946,"y":-1.2},{"s":"Imbalance","x":24.957,"y":-0.5},{"s":"Imbalance","x":24.964,"y":-4.0},{"s":"Imbalance","x":24.973,"y":-4.7},{"s":"Imbalance","x":24.982,"y":2.3},{"s":"Imbalance","x":24.99,"y":0.2},{"s":"Imbalance","x":24.995,"y":-4.0},{"s":"Imbalance","x":25.003,"y":1.6},{"s":"Imbalance","x":25.009,"y":5.7},{"s":"Imbalance","x":25.015,"y":1.6},{"s":"Imbalance","x":25.022,"y":-0.5},{"s":"Imbalance","x":25.029,"y":-3.3},{"s":"Imbalance","x":25.036,"y":1.6},{"s":"Imbalance","x":25.045,"y":-0.5},{"s":"Imbalance","x":25.056,"y":-2.6},{"s":"Imbalance","x":25.065,"y":0.2},{"s":"Imbalance","x":25.073,"y":-1.2},{"s":"Imbalance","x":25.08,"y":-4.7},{"s":"Imbalance","x":25.086,"y":-0.5},{"s":"Imbalance","x":25.093,"y":1.6},{"s":"Imbalance","x":25.1,"y":-1.9},{"s":"Imbalance","x":25.106,"y":-6.1},{"s":"Imbalance","x":25.114,"y":-1.2},{"s":"Imbalance","x":25.12,"y":1.6},{"s":"Imbalance","x":25.126,"y":9.2},{"s":"Imbalance","x":25.133,"y":1.6},{"s":"Imbalance","x":25.14,"y":-1.9},{"s":"Imbalance","x":25.147,"y":1.6},{"s":"Imbalance","x":25.155,"y":-0.5},{"s":"Imbalance","x":25.162,"y":-4.0},{"s":"Imbalance","x":25.17,"y":0.2},{"s":"Imbalance","x":25.176,"y":-1.9},{"s":"Imbalance","x":25.184,"y":-2.6},{"s":"Imbalance","x":25.19,"y":1.6},{"s":"Imbalance","x":25.197,"y":0.2},{"s":"Imbalance","x":25.204,"y":-3.3},{"s":"Imbalance","x":25.21,"y":-0.5},{"s":"Imbalance","x":25.217,"y":-5.4},{"s":"Imbalance","x":25.22,"y":-8.9},{"s":"Imbalance","x":25.226,"y":-0.5},{"s":"Imbalance","x":25.234,"y":1.6},{"s":"Imbalance","x":25.241,"y":-0.5},{"s":"Imbalance","x":25.248,"y":4.3},{"s":"Imbalance","x":25.253,"y":7.1},{"s":"Imbalance","x":25.258,"y":2.3},{"s":"Imbalance","x":25.265,"y":0.9},{"s":"Imbalance","x":25.272,"y":-2.6},{"s":"Imbalance","x":25.281,"y":-6.1},{"s":"Imbalance","x":25.289,"y":-1.2},{"s":"Imbalance","x":25.297,"y":-0.5},{"s":"Imbalance","x":25.304,"y":-4.0},{"s":"Imbalance","x":25.311,"y":-5.4},{"s":"Imbalance","x":25.319,"y":-6.8},{"s":"Imbalance","x":25.328,"y":-8.9},{"s":"Imbalance","x":25.333,"y":-5.4},{"s":"Imbalance","x":25.341,"y":-0.5},{"s":"Imbalance","x":25.348,"y":5.7},{"s":"Imbalance","x":25.354,"y":14.1},{"s":"Imbalance","x":25.359,"y":19.7},{"s":"Imbalance","x":25.37,"y":50},{"s":"Imbalance","x":25.55,"y":80},{"s":"Imbalance","x":25.71,"y":40},
{"s":"Imbalance","x":25.716,"y":20.4},{"s":"Imbalance","x":25.725,"y":13.4},{"s":"Imbalance","x":25.732,"y":7.1},{"s":"Imbalance","x":25.738,"y":4.3},{"s":"Imbalance","x":25.743,"y":11.3},{"s":"Imbalance","x":25.747,"y":17.2},{"s":"Imbalance","x":25.751,"y":8.5},{"s":"Imbalance","x":25.758,"y":4.3},{"s":"Imbalance","x":25.766,"y":3.6},{"s":"Imbalance","x":25.773,"y":6.4},{"s":"Imbalance","x":25.78,"y":14.1},{"s":"Imbalance","x":25.784,"y":25},{"s":"Imbalance","x":25.791,"y":25},{"s":"Imbalance","x":25.795,"y":12.0},{"s":"Imbalance","x":25.802,"y":5.7},{"s":"Imbalance","x":25.81,"y":3.6},{"s":"Imbalance","x":25.819,"y":2.9},{"s":"Imbalance","x":25.827,"y":2.3},{"s":"Imbalance","x":25.835,"y":2.9},{"s":"Imbalance","x":25.843,"y":2.1},{"s":"Imbalance","x":25.851,"y":2.6},{"s":"Imbalance","x":25.86,"y":3.3},{"s":"Imbalance","x":25.868,"y":2.3},{"s":"Imbalance","x":25.876,"y":0.9},{"s":"Imbalance","x":25.885,"y":0.2},{"s":"Imbalance","x":25.895,"y":-1.6},{"s":"Imbalance","x":25.904,"y":-2.6},{"s":"Imbalance","x":25.915,"y":-1.6},{"s":"Imbalance","x":25.926,"y":-1.2},{"s":"Imbalance","x":25.937,"y":-3.7},{"s":"Imbalance","x":25.948,"y":-5.4},{"s":"Imbalance","x":25.96,"y":-7.5},{"s":"Imbalance","x":25.971,"y":-8.9},{"s":"Imbalance","x":25.98,"y":-12.7},{"s":"Imbalance","x":25.987,"y":-8.9},{"s":"Imbalance","x":25.995,"y":-6.8},{"s":"Imbalance","x":26.004,"y":-8.2},{"s":"Imbalance","x":26.013,"y":-5.4},{"s":"Imbalance","x":26.021,"y":-5.1},{"s":"Imbalance","x":26.028,"y":-6.8},{"s":"Imbalance","x":26.037,"y":-9.6},{"s":"Imbalance","x":26.046,"y":-11.0},{"s":"Imbalance","x":26.054,"y":-9.6},{"s":"Imbalance","x":26.061,"y":-11.0},{"s":"Imbalance","x":26.068,"y":-12.4},{"s":"Imbalance","x":26.076,"y":-14.4},{"s":"Imbalance","x":26.084,"y":-11.0},{"s":"Imbalance","x":26.09,"y":-13.7},{"s":"Imbalance","x":26.098,"y":-17.2},{"s":"Imbalance","x":26.106,"y":-18.6},{"s":"Imbalance","x":26.115,"y":-13.7},{"s":"Imbalance","x":26.124,"y":-11.7},{"s":"Imbalance","x":26.131,"y":-9.6},{"s":"Imbalance","x":26.139,"y":-7.5},{"s":"Imbalance","x":26.148,"y":-11.0},{"s":"Imbalance","x":26.157,"y":-12.4},{"s":"Imbalance","x":26.166,"y":-9.6},{"s":"Imbalance","x":26.172,"y":-5.4},{"s":"Imbalance","x":26.181,"y":-12.4},{"s":"Imbalance","x":26.188,"y":-15.8},{"s":"Imbalance","x":26.198,"y":-15.5},{"s":"Imbalance","x":26.206,"y":-13.7},{"s":"Imbalance","x":26.214,"y":-6.8},{"s":"Imbalance","x":26.225,"y":-3.3},{"s":"Imbalance","x":26.237,"y":-2.3},{"s":"Imbalance","x":26.248,"y":-3.3},{"s":"Imbalance","x":26.259,"y":-4.7},{"s":"Imbalance","x":26.27,"y":-5.4},{"s":"Imbalance","x":26.281,"y":-5.1},{"s":"Imbalance","x":26.292,"y":-5.4},{"s":"Imbalance","x":26.303,"y":-6.8},{"s":"Imbalance","x":26.314,"y":-8.2},{"s":"Imbalance","x":26.325,"y":-8.9},{"s":"Imbalance","x":26.334,"y":-5.4},{"s":"Imbalance","x":26.341,"y":-0.5},{"s":"Imbalance","x":26.347,"y":8.5},{"s":"Imbalance","x":26.354,"y":18.3},{"s":"Imbalance","x":26.365,"y":50},{"s":"Imbalance","x":26.45,"y":60}
]},
"encoding": {
 "x": {"field": "x", "type": "quantitative", "scale": {"domain": [23.5, 26.5916], "nice": false, "zero": false},
  "axis": {"title": "October Day (CDT)", "values": [23.5, 24, 24.5, 25, 25.5, 26, 26.5], "format": ".1f", "offset": -383.2, "grid": false, "maxExtent": 600, "minExtent": 0,
   "domainColor": "black", "domainWidth": 1, "tickColor": "black", "tickSize": 9, "tickWidth": 1,
   "tickOpacity": {"condition": {"test": "datum.value === 24.5 || datum.value === 25.5 || datum.value === 26.5", "value": 1}, "value": 0},
   "labelPadding": 404, "labelFont": "Liberation Sans", "labelFontSize": 28, "labelFontWeight": "bold", "labelColor": "black", "labelFlush": false, "labelOverlap": false,
   "titleFont": "Liberation Sans", "titleFontSize": 30, "titleFontWeight": "bold", "titleColor": "black", "titlePadding": 22}},
 "y": {"field": "y", "type": "quantitative", "scale": {"domain": [-80, 20], "nice": false},
  "axis": {"title": "Energy flux (W m⁻²)", "values": [-80, -60, -40, -20, 0, 20], "grid": false, "labelExpr": "replace(datum.label, '−', '-')",
   "domainColor": "black", "domainWidth": 1, "tickColor": "black", "tickSize": 9, "tickWidth": 1,
   "labelPadding": 14, "labelFont": "Liberation Sans", "labelFontSize": 28, "labelFontWeight": "bold", "labelColor": "black",
   "titleFont": "Liberation Sans", "titleFontSize": 30, "titleFontWeight": "bold", "titleColor": "black", "titlePadding": 11}}
},
"layer": [
 {"data": {"name": "d"}, "transform": [{"filter": "datum.s === 'H'"}], "mark": {"type": "line", "strokeWidth": 5, "clip": true, "strokeJoin": "round"},
  "encoding": {"color": {"field": "s", "type": "nominal", "scale": {"domain": ["H", "LvE", "G", "Q*", "Imbalance"], "range": ["#333333", "#333333", "#a6a6a6", "#333333", "#333333"]},
   "legend": {"title": null, "orient": "none", "direction": "horizontal", "legendX": 412, "legendY": -55, "labelFont": "Liberation Sans", "labelFontSize": 28, "labelFontWeight": "bold", "labelColor": "black", "labelOffset": 6, "columnPadding": 18, "symbolSize": 900,
    "encode": {"symbols": {"update": {"shape": {"signal": "datum.value === 'LvE' ? 'M-1,0H1M0,-0.3V0.3' : datum.value === 'Q*' ? 'M-1,0H-0.25M0.25,0H1M-0.25,0A0.25,0.25,0,1,1,0.25,0A0.25,0.25,0,1,1,-0.25,0' : 'M-1,0H1'"}, "strokeWidth": {"signal": "datum.value === 'H' || datum.value === 'G' ? 5 : 1.3"}, "fill": {"value": "transparent"}}}}}}}},
 {"data": {"name": "d"}, "transform": [{"filter": "datum.s === 'LvE'"}], "mark": {"type": "line", "strokeWidth": 1.2, "clip": true}, "encoding": {"color": {"field": "s", "type": "nominal"}}},
 {"data": {"name": "d"}, "transform": [{"filter": "datum.s === 'LvE'"}], "mark": {"type": "point", "shape": "M-1,0H1M0,-1V1", "size": 40, "filled": false, "stroke": "#333333", "strokeWidth": 1, "clip": true, "opacity": 1}},
 {"data": {"name": "d"}, "transform": [{"filter": "datum.s === 'G'"}], "mark": {"type": "line", "strokeWidth": 5, "clip": true, "strokeJoin": "round"}, "encoding": {"color": {"field": "s", "type": "nominal"}}},
 {"data": {"name": "d"}, "transform": [{"filter": "datum.s === 'Q*'"}], "mark": {"type": "line", "strokeWidth": 1.3, "clip": true}, "encoding": {"color": {"field": "s", "type": "nominal"}}},
 {"data": {"name": "d"}, "transform": [{"filter": "datum.s === 'Q*'"}], "mark": {"type": "point", "shape": "circle", "size": 49, "filled": false, "stroke": "#333333", "strokeWidth": 1.2, "clip": true, "opacity": 1}},
 {"data": {"name": "d"}, "transform": [{"filter": "datum.s === 'Imbalance'"}], "mark": {"type": "line", "strokeWidth": 1.3, "clip": true}, "encoding": {"color": {"field": "s", "type": "nominal"}}},
 {"data": {"name": "lab"}, "mark": {"type": "text", "font": "Liberation Sans", "fontSize": 29, "fontWeight": "bold", "color": "black", "baseline": "middle", "align": "center"}, "encoding": {"text": {"field": "t"}}}
]
}
